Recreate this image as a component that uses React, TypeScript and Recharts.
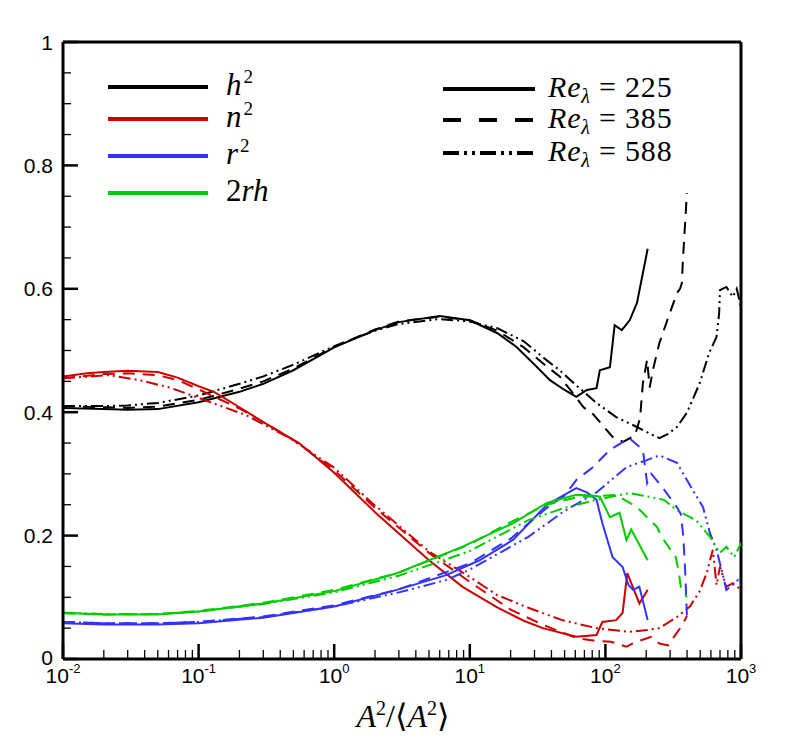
import { LineChart, Line, XAxis, YAxis, ReferenceLine } from 'recharts';

type Pt = [number, number];

// h^2
const H2_225: Pt[] = [
  [0.01, 0.407], [0.02, 0.405], [0.03, 0.404], [0.05, 0.405], [0.1, 0.416], [0.2, 0.433], [0.3, 0.446],
  [0.5, 0.468], [1, 0.505], [2, 0.533], [3, 0.546], [6, 0.556], [10, 0.549], [16, 0.528], [22, 0.506],
  [31, 0.474], [39, 0.452], [50, 0.436], [61, 0.425], [73, 0.436], [86, 0.439], [91, 0.468], [108, 0.473],
  [117, 0.541], [132, 0.533], [151, 0.549], [171, 0.577], [205, 0.665],
];
const H2_385: Pt[] = [
  [0.01, 0.41], [0.02, 0.408], [0.03, 0.407], [0.05, 0.409], [0.1, 0.42], [0.2, 0.438], [0.3, 0.45],
  [0.5, 0.471], [1, 0.506], [2, 0.534], [3, 0.547], [6, 0.555], [10, 0.549], [16, 0.532], [25, 0.505],
  [37, 0.474], [46, 0.458], [57, 0.432], [69, 0.408], [81, 0.397], [113, 0.36], [135, 0.352], [165, 0.362],
  [180, 0.39], [189, 0.447], [203, 0.485], [212, 0.44], [225, 0.47], [250, 0.512], [299, 0.561], [337, 0.593],
  [355, 0.6], [366, 0.609], [373, 0.647], [399, 0.755],
];
const H2_588: Pt[] = [
  [0.01, 0.41], [0.02, 0.41], [0.03, 0.411], [0.05, 0.415], [0.1, 0.427], [0.2, 0.446], [0.3, 0.458],
  [0.5, 0.477], [1, 0.507], [2, 0.532], [3, 0.543], [6, 0.551], [10, 0.547], [16, 0.536], [25, 0.515],
  [37, 0.484], [46, 0.468], [60, 0.445], [86, 0.415], [120, 0.392], [171, 0.376], [223, 0.363], [250, 0.358],
  [290, 0.365], [337, 0.376], [399, 0.399], [496, 0.447], [582, 0.496], [660, 0.522], [690, 0.56], [700, 0.598],
  [780, 0.603], [870, 0.587], [930, 0.6], [1000, 0.57],
];

// n^2
const N2_225: Pt[] = [
  [0.01, 0.458], [0.015, 0.463], [0.02, 0.465], [0.03, 0.467], [0.05, 0.465], [0.07, 0.456], [0.1, 0.442],
  [0.13, 0.433], [0.2, 0.408], [0.3, 0.384], [0.55, 0.35], [1, 0.302], [2, 0.238], [5, 0.16], [8.85, 0.117],
  [15.8, 0.084], [25, 0.062], [34.5, 0.05], [61, 0.036], [86, 0.039], [95, 0.06], [120, 0.063], [134, 0.075],
  [145, 0.139], [178, 0.09], [205, 0.112],
];
const N2_385: Pt[] = [
  [0.01, 0.455], [0.02, 0.462], [0.03, 0.463], [0.05, 0.46], [0.07, 0.452], [0.1, 0.437], [0.2, 0.406],
  [0.3, 0.384], [0.5, 0.355], [1, 0.306], [2, 0.245], [5, 0.172], [10, 0.125], [20, 0.08], [35, 0.055],
  [61, 0.034], [81, 0.03], [110, 0.028], [143, 0.02], [165, 0.027], [218, 0.036], [250, 0.025], [290, 0.022],
  [330, 0.04], [370, 0.055], [399, 0.07],
];
const N2_588: Pt[] = [
  [0.01, 0.455], [0.0219, 0.46], [0.0365, 0.452], [0.061, 0.44], [0.12, 0.417], [0.225, 0.395], [0.47, 0.358],
  [1, 0.31], [1.9, 0.253], [5.1, 0.173], [10, 0.133], [15.8, 0.104], [27, 0.083], [48, 0.063], [86, 0.05],
  [150, 0.044], [203, 0.047], [250, 0.05], [337, 0.068], [420, 0.085], [496, 0.11], [560, 0.14], [620, 0.177],
  [660, 0.12], [700, 0.15], [780, 0.117], [870, 0.123], [1000, 0.112],
];

// r^2
const R2_225: Pt[] = [
  [0.01, 0.058], [0.02, 0.056], [0.05, 0.056], [0.1, 0.058], [0.3, 0.067], [1, 0.085], [2.9, 0.112],
  [6.7, 0.136], [11.8, 0.16], [20.8, 0.193], [37, 0.25], [61, 0.277], [73, 0.27], [86, 0.258], [95, 0.22],
  [113, 0.165], [134, 0.149], [148, 0.12], [160, 0.112], [178, 0.117], [205, 0.063],
];
const R2_385: Pt[] = [
  [0.01, 0.06], [0.02, 0.058], [0.05, 0.058], [0.1, 0.06], [0.3, 0.069], [1, 0.087], [3, 0.113], [10, 0.155],
  [20, 0.195], [37, 0.245], [50, 0.265], [61, 0.29], [80, 0.31], [108, 0.339], [150, 0.358], [189, 0.339],
  [203, 0.285], [218, 0.3], [260, 0.28], [337, 0.246], [360, 0.235], [375, 0.2], [388, 0.14], [399, 0.07],
];
const R2_588: Pt[] = [
  [0.01, 0.06], [0.02, 0.058], [0.05, 0.058], [0.1, 0.06], [0.3, 0.068], [1, 0.085], [3, 0.108], [6.7, 0.128],
  [10, 0.145], [27, 0.198], [50, 0.24], [86, 0.27], [143, 0.311], [200, 0.322], [250, 0.33], [337, 0.318],
  [440, 0.274], [525, 0.246], [590, 0.204], [660, 0.177], [730, 0.139], [780, 0.112], [870, 0.12], [950, 0.128],
  [1000, 0.12],
];

// 2rh
const G2_225: Pt[] = [
  [0.01, 0.075], [0.02, 0.072], [0.05, 0.072], [0.1, 0.077], [0.3, 0.09], [1, 0.11], [2.9, 0.139],
  [8.85, 0.182], [20.8, 0.22], [37, 0.253], [61, 0.266], [80, 0.265], [91, 0.263], [108, 0.23], [127, 0.237],
  [143, 0.193], [155, 0.21], [205, 0.16],
];
const G2_385: Pt[] = [
  [0.01, 0.074], [0.02, 0.072], [0.05, 0.073], [0.1, 0.078], [0.3, 0.091], [1, 0.112], [3, 0.14], [10, 0.186],
  [20, 0.222], [37, 0.25], [61, 0.262], [86, 0.264], [120, 0.266], [171, 0.246], [240, 0.214], [260, 0.198],
  [330, 0.165], [345, 0.145], [360, 0.117], [399, 0.1],
];
const G2_588: Pt[] = [
  [0.01, 0.075], [0.02, 0.073], [0.05, 0.073], [0.1, 0.077], [0.3, 0.089], [1, 0.108], [3, 0.135], [10, 0.175],
  [27, 0.225], [50, 0.245], [86, 0.258], [150, 0.269], [210, 0.263], [270, 0.258], [337, 0.241], [466, 0.225],
  [590, 0.198], [700, 0.172], [780, 0.182], [890, 0.165], [1000, 0.188],
];

const X_DECADES = [0.01, 0.1, 1, 10, 100];
const X_STEPS = [1, 2, 3, 4, 5, 6, 7, 8, 9];
const X_TICKS = [...X_DECADES.flatMap((d) => X_STEPS.map((s) => d * s)), 1000];
const X_MAJOR = [0.01, 0.1, 1, 10, 100, 1000];
const X_MAJOR_EXP = ['-2', '-1', '0', '1', '2', '3'];

const Y_TICKS = [0, 0.05, 0.1, 0.15, 0.2, 0.25, 0.3, 0.35, 0.4, 0.45, 0.5, 0.55, 0.6, 0.65, 0.7, 0.75, 0.8, 0.85, 0.9, 0.95, 1];
const Y_MAJOR = [0, 0.2, 0.4, 0.6, 0.8, 1];
const Y_MAJOR_LABELS = ['0', '0.2', '0.4', '0.6', '0.8', '1'];

const BLACK = '#000000';
const RED = '#cc0000';
const BLUE = '#3333ff';
const GREEN = '#00cc00';

const DASH_385 = '12 8';
const DASH_588 = '12 4 2 4 2 4';

const SERIES = [
  { id: 'h2-225', pts: H2_225, color: BLACK, dash: undefined },
  { id: 'h2-385', pts: H2_385, color: BLACK, dash: DASH_385 },
  { id: 'h2-588', pts: H2_588, color: BLACK, dash: DASH_588 },
  { id: 'n2-225', pts: N2_225, color: RED, dash: undefined },
  { id: 'n2-385', pts: N2_385, color: RED, dash: DASH_385 },
  { id: 'n2-588', pts: N2_588, color: RED, dash: DASH_588 },
  { id: 'r2-225', pts: R2_225, color: BLUE, dash: undefined },
  { id: 'r2-385', pts: R2_385, color: BLUE, dash: DASH_385 },
  { id: 'r2-588', pts: R2_588, color: BLUE, dash: DASH_588 },
  { id: 'g2-225', pts: G2_225, color: GREEN, dash: undefined },
  { id: 'g2-385', pts: G2_385, color: GREEN, dash: DASH_385 },
  { id: 'g2-588', pts: G2_588, color: GREEN, dash: DASH_588 },
];

const SANS = "'Liberation Sans', Arial, sans-serif";
const SERIF = "'Liberation Serif', 'DejaVu Serif', serif";

const xMajorIndex = (v: number) => X_MAJOR.findIndex((m) => Math.abs(Math.log10(m) - Math.log10(v)) < 1e-6);
const yMajorIndex = (v: number) => Y_MAJOR.findIndex((m) => Math.abs(m - v) < 1e-6);

// ticks point into the plot: long for labelled values, short otherwise
function XTick(props: any) {
  const { x, y, payload } = props;
  const i = xMajorIndex(payload.value);
  return (
    <g>
      <line x1={x} x2={x} y1={y} y2={y - (i >= 0 ? 15 : 9)} stroke="#000000" strokeWidth={i >= 0 ? 2.5 : 1.3} />
      {i >= 0 && (
        <text x={x} y={y + 24} textAnchor="middle" fontFamily={SANS} fontSize={21} fill="#000">
          10<tspan dy={-10} fontSize={13}>{X_MAJOR_EXP[i]}</tspan>
        </text>
      )}
    </g>
  );
}

function YTick(props: any) {
  const { x, y, payload } = props;
  const i = yMajorIndex(payload.value);
  return (
    <g>
      <line x1={x} x2={x + (i >= 0 ? 15 : 8)} y1={y} y2={y} stroke="#000000" strokeWidth={i >= 0 ? 2.5 : 1.3} />
      {i >= 0 && (
        <text x={x - 10} y={y + (i === 0 ? 6 : 7.5)} textAnchor="end" fontFamily={SANS} fontSize={21} fill="#000">
          {Y_MAJOR_LABELS[i]}
        </text>
      )}
    </g>
  );
}

const QTY_LEGEND = [
  { y: 79, color: BLACK, base: 'h', sup: '2' },
  { y: 111, color: RED, base: 'n', sup: '2' },
  { y: 148, color: BLUE, base: 'r', sup: '2' },
  { y: 185, color: GREEN, base: 'rh', sup: '' },
];
const RE_LEGEND = [
  { y: 81, dash: undefined, value: '225' },
  { y: 112, dash: '18 18', value: '385' },
  { y: 145, dash: '16 5 3 5 3 5', value: '588' },
];

export default function App() {
  return (
    <div style={{ position: 'relative', width: 770, height: 730 }}>
      <svg width={770} height={730} style={{ position: 'absolute', left: 0, top: 0, pointerEvents: 'none' }}>
        {QTY_LEGEND.map((q) => (
          <g key={q.base + q.color}>
            <line x1={100} x2={200} y1={q.y} y2={q.y} stroke={q.color} strokeWidth={4} />
            <text x={218} y={q.y + 8} fontFamily={SERIF} fontSize={31} fill="#000">
              {q.sup ? (
                <>
                  <tspan fontStyle="italic">{q.base}</tspan>
                  <tspan dx={2} dy={-12} fontSize={19}>{q.sup}</tspan>
                </>
              ) : (
                <>
                  <tspan>2</tspan>
                  <tspan fontStyle="italic">{q.base}</tspan>
                </>
              )}
            </text>
          </g>
        ))}
        {RE_LEGEND.map((r) => (
          <g key={r.value}>
            <line x1={435} x2={527} y1={r.y} y2={r.y} stroke="#000" strokeWidth={4} strokeDasharray={r.dash} />
            <text x={540} y={r.y + 8} fontFamily={SERIF} fontSize={30} fill="#000" letterSpacing={0.8}>
              <tspan fontStyle="italic">Re</tspan>
              <tspan dy={6} fontSize={20} fontStyle="italic">λ</tspan>
              <tspan dy={-6}> = {r.value}</tspan>
            </text>
          </g>
        ))}
        <text x={395} y={719} textAnchor="middle" fontFamily={SERIF} fontSize={32} fill="#000">
          <tspan fontStyle="italic">A</tspan>
          <tspan dy={-12} fontSize={20}>2</tspan>
          <tspan dy={12}>/⟨</tspan>
          <tspan fontStyle="italic">A</tspan>
          <tspan dy={-12} fontSize={20}>2</tspan>
          <tspan dy={12}>⟩</tspan>
        </text>
      </svg>
      <LineChart width={770} height={730} margin={{ top: 34, right: 37, left: 0, bottom: 0 }}>
        <ReferenceLine y={1} stroke="#000" strokeWidth={3} />
        <ReferenceLine segment={[{ x: 1000, y: 0 }, { x: 1000, y: 1 }]} ifOverflow="visible" stroke="#000" strokeWidth={3} />
        {SERIES.map((s) => (
          <Line
            key={s.id}
            data={s.pts.map(([x, y]) => ({ x, y }))}
            dataKey="y"
            type="linear"
            stroke={s.color}
            strokeWidth={2}
            strokeDasharray={s.dash}
            dot={false}
            activeDot={false}
            isAnimationActive={false}
          />
        ))}
        <XAxis
          type="number"
          dataKey="x"
          scale="log"
          domain={[0.01, 1000]}
          allowDataOverflow
          ticks={X_TICKS}
          interval={0}
          height={79}
          tickSize={0}
          tickMargin={0}
          tickLine={false}
          tick={<XTick />}
          axisLine={{ stroke: '#000', strokeWidth: 3 }}
        />
        <YAxis
          type="number"
          domain={[0, 1]}
          ticks={Y_TICKS}
          interval={0}
          width={55}
          tickSize={0}
          tickMargin={0}
          tickLine={false}
          tick={<YTick />}
          axisLine={{ stroke: '#000', strokeWidth: 3 }}
        />
      </LineChart>
    </div>
  );
}
